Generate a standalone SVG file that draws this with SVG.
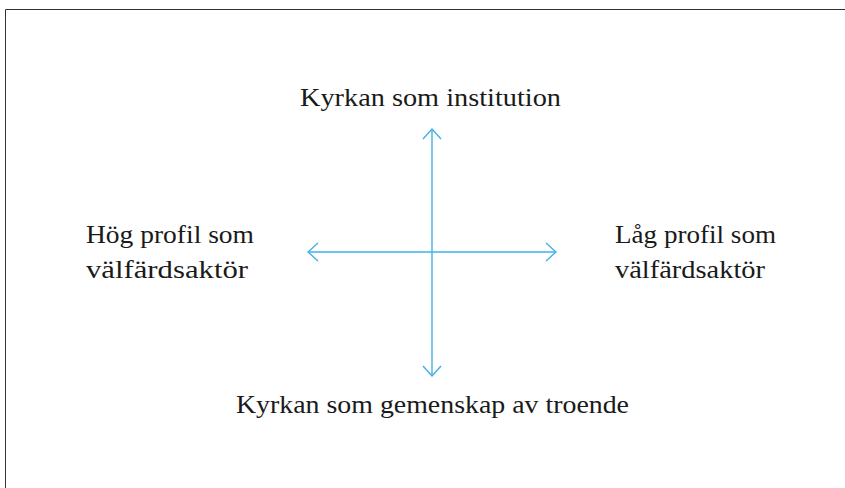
<svg xmlns="http://www.w3.org/2000/svg" width="845" height="488" viewBox="0 0 845 488">
<defs>
<style>
text{font-family:'Liberation Serif','Times New Roman','DejaVu Serif',serif;font-size:25px;fill:#1a1a1a}
.ax{stroke:#45b0e5;stroke-width:1.4;fill:none}
</style>
<marker id="ah" viewBox="0 0 12 20" refX="11" refY="10" markerWidth="12" markerHeight="20" markerUnits="userSpaceOnUse" orient="auto-start-reverse">
<path d="M1,1 L11,10 L1,19" fill="none" stroke="#45b0e5" stroke-width="1.4"/>
</marker>
</defs>
<rect width="845" height="488" fill="#fff"/>
<path d="M5.5,488 V9.5 H845" fill="none" stroke="#333" stroke-width="1"/>
<g id="connectors">
<line class="ax" x1="432" y1="376" x2="432" y2="129" marker-start="url(#ah)" marker-end="url(#ah)"/>
<line class="ax" x1="308" y1="252" x2="556" y2="252" marker-start="url(#ah)" marker-end="url(#ah)"/>
</g>
<g id="top"><text x="300" y="106" textLength="261" lengthAdjust="spacingAndGlyphs">Kyrkan som institution</text></g>
<g id="left"><text x="86" y="243" textLength="168" lengthAdjust="spacingAndGlyphs">Hög profil som</text><text x="86" y="278" textLength="162" lengthAdjust="spacingAndGlyphs">välfärdsaktör</text></g>
<g id="right"><text x="615" y="243" textLength="161" lengthAdjust="spacingAndGlyphs">Låg profil som</text><text x="615" y="278" textLength="150" lengthAdjust="spacingAndGlyphs">välfärdsaktör</text></g>
<g id="bottom"><text x="236" y="413" textLength="393" lengthAdjust="spacingAndGlyphs">Kyrkan som gemenskap av troende</text></g>
</svg>
